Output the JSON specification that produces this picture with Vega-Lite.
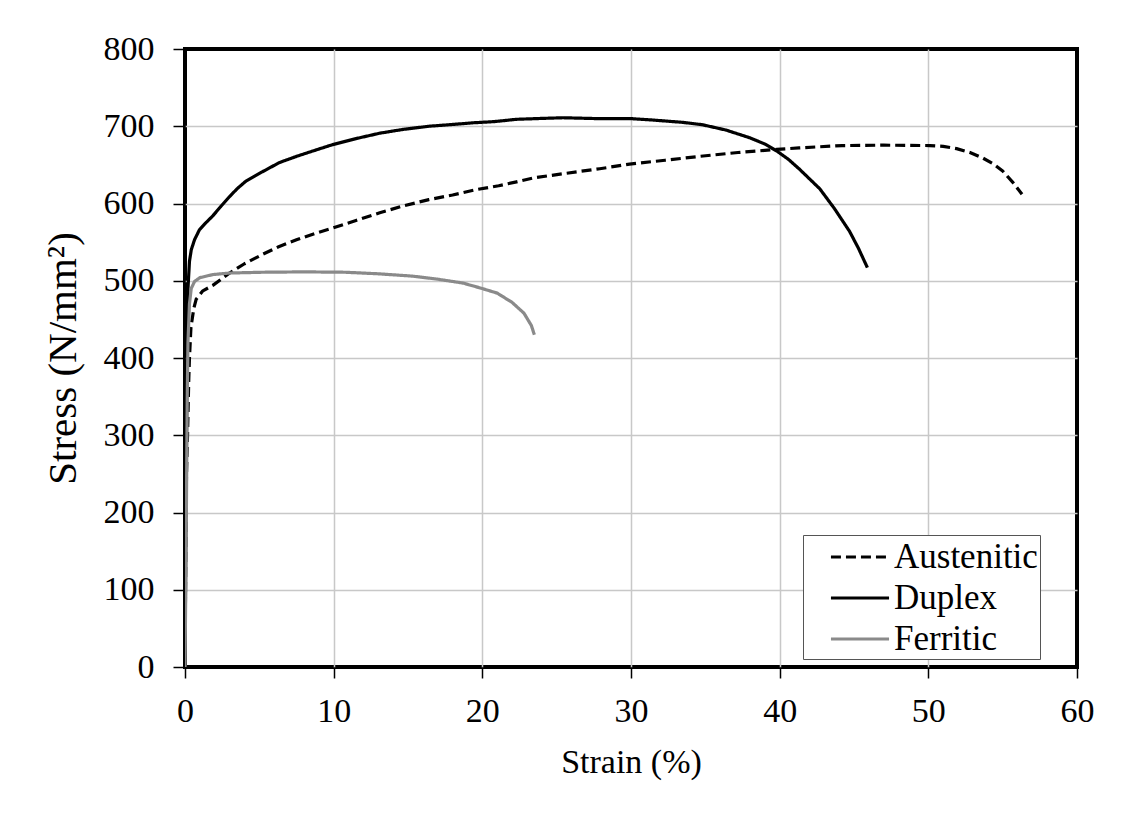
{
  "$schema": "https://vega.github.io/schema/vega-lite/v6.json",
  "autosize": {"type": "none"},
  "padding": {"left": 185, "top": 49, "right": 59, "bottom": 149},
  "width": 892,
  "height": 618,
  "background": "white",
  "view": {"stroke": "black", "strokeWidth": 4},
  "config": {
    "font": "Liberation Serif"
  },
  "data": {
    "values": [
      {"Material": "Austenitic", "strain": 0, "stress": 0},
      {"Material": "Austenitic", "strain": 0.05, "stress": 150},
      {"Material": "Austenitic", "strain": 0.1, "stress": 250},
      {"Material": "Austenitic", "strain": 0.17, "stress": 300},
      {"Material": "Austenitic", "strain": 0.25, "stress": 370},
      {"Material": "Austenitic", "strain": 0.3, "stress": 400},
      {"Material": "Austenitic", "strain": 0.4, "stress": 440},
      {"Material": "Austenitic", "strain": 0.6, "stress": 465},
      {"Material": "Austenitic", "strain": 0.75, "stress": 476},
      {"Material": "Austenitic", "strain": 1.2, "stress": 487},
      {"Material": "Austenitic", "strain": 1.87, "stress": 494},
      {"Material": "Austenitic", "strain": 3, "stress": 510},
      {"Material": "Austenitic", "strain": 4, "stress": 522},
      {"Material": "Austenitic", "strain": 5.2, "stress": 534},
      {"Material": "Austenitic", "strain": 6.3, "stress": 544},
      {"Material": "Austenitic", "strain": 7.5, "stress": 553},
      {"Material": "Austenitic", "strain": 8.7, "stress": 561},
      {"Material": "Austenitic", "strain": 9.9, "stress": 568},
      {"Material": "Austenitic", "strain": 11.5, "stress": 578},
      {"Material": "Austenitic", "strain": 13.1, "stress": 588},
      {"Material": "Austenitic", "strain": 14.7, "stress": 597},
      {"Material": "Austenitic", "strain": 16.4, "stress": 605},
      {"Material": "Austenitic", "strain": 18, "stress": 611},
      {"Material": "Austenitic", "strain": 19.6, "stress": 618},
      {"Material": "Austenitic", "strain": 21.1, "stress": 623},
      {"Material": "Austenitic", "strain": 22.3, "stress": 628},
      {"Material": "Austenitic", "strain": 23.4, "stress": 633},
      {"Material": "Austenitic", "strain": 25.6, "stress": 639},
      {"Material": "Austenitic", "strain": 27.9, "stress": 645},
      {"Material": "Austenitic", "strain": 29.9, "stress": 651},
      {"Material": "Austenitic", "strain": 32.3, "stress": 656},
      {"Material": "Austenitic", "strain": 34.6, "stress": 661},
      {"Material": "Austenitic", "strain": 37.2, "stress": 666},
      {"Material": "Austenitic", "strain": 39.8, "stress": 670},
      {"Material": "Austenitic", "strain": 41.3, "stress": 672},
      {"Material": "Austenitic", "strain": 44.2, "stress": 675},
      {"Material": "Austenitic", "strain": 47, "stress": 675.5},
      {"Material": "Austenitic", "strain": 50.1, "stress": 675},
      {"Material": "Austenitic", "strain": 51, "stress": 674},
      {"Material": "Austenitic", "strain": 51.9, "stress": 671},
      {"Material": "Austenitic", "strain": 52.8, "stress": 666},
      {"Material": "Austenitic", "strain": 53.65, "stress": 659},
      {"Material": "Austenitic", "strain": 54.4, "stress": 651},
      {"Material": "Austenitic", "strain": 55, "stress": 642},
      {"Material": "Austenitic", "strain": 55.7, "stress": 627},
      {"Material": "Austenitic", "strain": 56.3, "stress": 612},

      {"Material": "Duplex", "strain": 0, "stress": 0},
      {"Material": "Duplex", "strain": 0.05, "stress": 150},
      {"Material": "Duplex", "strain": 0.1, "stress": 300},
      {"Material": "Duplex", "strain": 0.15, "stress": 420},
      {"Material": "Duplex", "strain": 0.2, "stress": 490},
      {"Material": "Duplex", "strain": 0.3, "stress": 525},
      {"Material": "Duplex", "strain": 0.42, "stress": 540},
      {"Material": "Duplex", "strain": 0.64, "stress": 553},
      {"Material": "Duplex", "strain": 0.97, "stress": 566},
      {"Material": "Duplex", "strain": 1.4, "stress": 575},
      {"Material": "Duplex", "strain": 1.87, "stress": 584},
      {"Material": "Duplex", "strain": 2.4, "stress": 596},
      {"Material": "Duplex", "strain": 3, "stress": 609},
      {"Material": "Duplex", "strain": 3.5, "stress": 619},
      {"Material": "Duplex", "strain": 4.1, "stress": 629},
      {"Material": "Duplex", "strain": 5.2, "stress": 641},
      {"Material": "Duplex", "strain": 6.35, "stress": 653},
      {"Material": "Duplex", "strain": 7.5, "stress": 661},
      {"Material": "Duplex", "strain": 8.6, "stress": 668},
      {"Material": "Duplex", "strain": 9.9, "stress": 676},
      {"Material": "Duplex", "strain": 11.5, "stress": 684},
      {"Material": "Duplex", "strain": 13.1, "stress": 691},
      {"Material": "Duplex", "strain": 14.7, "stress": 696},
      {"Material": "Duplex", "strain": 16.4, "stress": 700},
      {"Material": "Duplex", "strain": 17.8, "stress": 702},
      {"Material": "Duplex", "strain": 19.4, "stress": 704.5},
      {"Material": "Duplex", "strain": 20.8, "stress": 706},
      {"Material": "Duplex", "strain": 22.3, "stress": 709},
      {"Material": "Duplex", "strain": 23.8, "stress": 710},
      {"Material": "Duplex", "strain": 25.4, "stress": 711},
      {"Material": "Duplex", "strain": 27.5, "stress": 710},
      {"Material": "Duplex", "strain": 29.9, "stress": 710},
      {"Material": "Duplex", "strain": 31.5, "stress": 708},
      {"Material": "Duplex", "strain": 33.5, "stress": 705},
      {"Material": "Duplex", "strain": 34.8, "stress": 702},
      {"Material": "Duplex", "strain": 36.4, "stress": 695},
      {"Material": "Duplex", "strain": 38, "stress": 685},
      {"Material": "Duplex", "strain": 39, "stress": 677},
      {"Material": "Duplex", "strain": 39.8, "stress": 668},
      {"Material": "Duplex", "strain": 40.6, "stress": 657},
      {"Material": "Duplex", "strain": 41.3, "stress": 645},
      {"Material": "Duplex", "strain": 42, "stress": 632},
      {"Material": "Duplex", "strain": 42.7, "stress": 619},
      {"Material": "Duplex", "strain": 43.7, "stress": 593},
      {"Material": "Duplex", "strain": 44.7, "stress": 564},
      {"Material": "Duplex", "strain": 45.3, "stress": 542},
      {"Material": "Duplex", "strain": 45.9, "stress": 517},

      {"Material": "Ferritic", "strain": 0, "stress": 0},
      {"Material": "Ferritic", "strain": 0.05, "stress": 100},
      {"Material": "Ferritic", "strain": 0.1, "stress": 220},
      {"Material": "Ferritic", "strain": 0.15, "stress": 350},
      {"Material": "Ferritic", "strain": 0.2, "stress": 420},
      {"Material": "Ferritic", "strain": 0.3, "stress": 470},
      {"Material": "Ferritic", "strain": 0.42, "stress": 490},
      {"Material": "Ferritic", "strain": 0.64, "stress": 499},
      {"Material": "Ferritic", "strain": 1, "stress": 504},
      {"Material": "Ferritic", "strain": 1.87, "stress": 508},
      {"Material": "Ferritic", "strain": 3, "stress": 510},
      {"Material": "Ferritic", "strain": 5.2, "stress": 511},
      {"Material": "Ferritic", "strain": 8, "stress": 511.5},
      {"Material": "Ferritic", "strain": 10.8, "stress": 511},
      {"Material": "Ferritic", "strain": 13, "stress": 509},
      {"Material": "Ferritic", "strain": 15.3, "stress": 506},
      {"Material": "Ferritic", "strain": 17, "stress": 502},
      {"Material": "Ferritic", "strain": 18.7, "stress": 497},
      {"Material": "Ferritic", "strain": 19.8, "stress": 491},
      {"Material": "Ferritic", "strain": 21, "stress": 484},
      {"Material": "Ferritic", "strain": 22, "stress": 472},
      {"Material": "Ferritic", "strain": 22.8, "stress": 458},
      {"Material": "Ferritic", "strain": 23.3, "stress": 442},
      {"Material": "Ferritic", "strain": 23.5, "stress": 430}
    ]
  },
  "mark": {"type": "line", "strokeWidth": 3.2, "strokeJoin": "round", "clip": true},
  "encoding": {
    "x": {
      "field": "strain", "type": "quantitative",
      "scale": {"domain": [0, 60], "nice": false},
      "axis": {
        "title": "Strain (%)",
        "values": [0, 10, 20, 30, 40, 50, 60],
        "domain": false,
        "tickSize": 11, "tickColor": "black", "tickWidth": 1.5,
        "grid": true, "gridColor": "#c8c8c8", "gridWidth": 1.5,
        "gridOpacity": {"condition": {"test": "datum.value === 0 || datum.value === 60", "value": 0}, "value": 1},
        "labelFont": "Liberation Serif", "labelFontSize": 34, "labelColor": "black", "labelPadding": 16,
        "labelFlush": false,
        "titleFont": "Liberation Serif", "titleFontSize": 34, "titleFontWeight": "normal", "titleColor": "black", "titlePadding": 17
      }
    },
    "y": {
      "field": "stress", "type": "quantitative",
      "scale": {"domain": [0, 800], "nice": false},
      "axis": {
        "title": "Stress (N/mm²)",
        "values": [0, 100, 200, 300, 400, 500, 600, 700, 800],
        "domain": false,
        "tickSize": 12, "tickColor": "black", "tickWidth": 1.5,
        "grid": true, "gridColor": "#c8c8c8", "gridWidth": 1.5,
        "gridOpacity": {"condition": {"test": "datum.value === 0 || datum.value === 800", "value": 0}, "value": 1},
        "labelFont": "Liberation Serif", "labelFontSize": 34, "labelColor": "black", "labelPadding": 19,
        "labelFlush": false,
        "titleFont": "Liberation Serif", "titleFontSize": 41, "titleFontWeight": "normal", "titleColor": "black", "titlePadding": 19
      }
    },
    "color": {
      "field": "Material", "type": "nominal",
      "scale": {"domain": ["Austenitic", "Duplex", "Ferritic"], "range": ["black", "black", "#8a8a8a"]},
      "legend": {
        "title": null,
        "orient": "none",
        "legendX": 618,
        "legendY": 486,
        "fillColor": "white",
        "strokeColor": "#555555",
        "padding": 2,
        "symbolType": "M-1.57,0H1.57",
        "symbolSize": 1369,
        "symbolStrokeWidth": 3,
        "symbolOffset": 35,
        "labelFont": "Liberation Serif",
        "labelFontSize": 35,
        "labelColor": "black",
        "labelOffset": 14,
        "labelExpr": "datum.label + '\u2003'",
        "rowPadding": 3
      }
    },
    "strokeDash": {
      "field": "Material", "type": "nominal",
      "scale": {"domain": ["Austenitic", "Duplex", "Ferritic"], "range": [[10, 5], [1, 0], [1, 0]]},
      "legend": null
    }
  }
}
